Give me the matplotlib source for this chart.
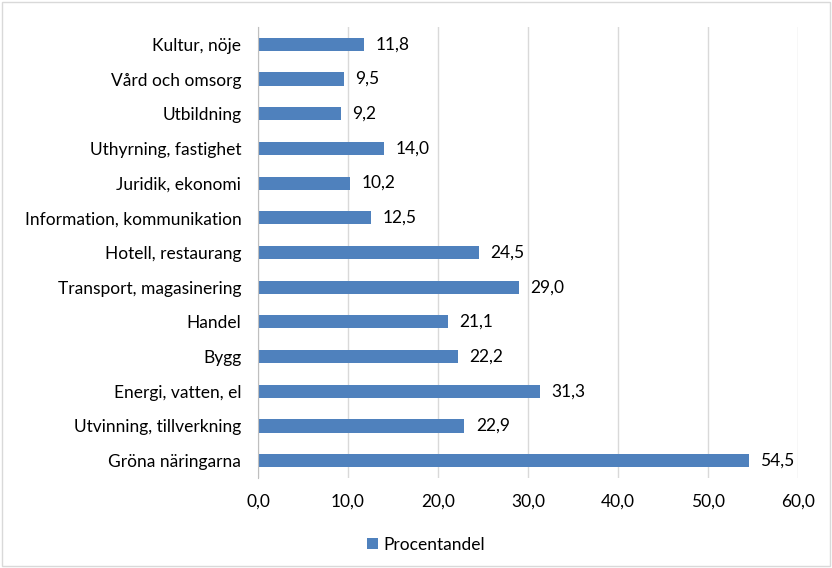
import matplotlib
matplotlib.use("Agg")
import matplotlib.pyplot as plt
from matplotlib.patches import Rectangle

categories = ["Kultur, nöje", "Vård och omsorg", "Utbildning", "Uthyrning, fastighet",
              "Juridik, ekonomi", "Information, kommunikation", "Hotell, restaurang",
              "Transport, magasinering", "Handel", "Bygg", "Energi, vatten, el",
              "Utvinning, tillverkning", "Gröna näringarna"]
values = [11.8, 9.5, 9.2, 14.0, 10.2, 12.5, 24.5, 29.0, 21.1, 22.2, 31.3, 22.9, 54.5]
xticks = [0, 10, 20, 30, 40, 50, 60]
series_name = "Procentandel"

plt.rcParams['font.family'] = ['Lato', 'DejaVu Sans']
fs = 12.5

fig = plt.figure(figsize=(8.32, 5.68), dpi=100)
ax = fig.add_axes([258/832, 1-478/568, 540/832, 451/568])

n = len(categories)
ypos = list(range(n))[::-1]
color = "#4F81BD"
bars = ax.barh(ypos, values, height=0.38, color=color, label=series_name, zorder=3)
for y, v in zip(ypos, values):
    ax.text(v + 1.3, y, f"{v:.1f}".replace(".", ","), va="center", ha="left",
            fontsize=fs, color="#000000")

ax.set_yticks(ypos)
ax.set_yticklabels(categories, fontsize=fs)
ax.set_ylim(-0.5, n - 0.5)
ax.set_xlim(0, 60)
ax.set_xticks(xticks)
ax.set_xticklabels([f"{t:.1f}".replace(".", ",") for t in xticks], fontsize=fs)
ax.tick_params(axis="both", length=0)
ax.tick_params(axis="x", pad=11)
ax.tick_params(axis="y", pad=12)
ax.grid(axis="x", color="#D9D9D9", linewidth=1, zorder=0)
for s in ["top", "right", "bottom"]:
    ax.spines[s].set_visible(False)
ax.spines["left"].set_color("#BFBFBF")
ax.spines["left"].set_zorder(4)

fig.legend(handles=[bars], labels=[series_name], loc="center",
           bbox_to_anchor=(426/832, 1-545/568), frameon=False, fontsize=fs,
           handlelength=0.6, handleheight=0.6, handletextpad=0.3)

fig.patches.append(Rectangle((2/832, 2/568), 828/832, 564/568, transform=fig.transFigure,
                             fill=False, edgecolor="#D9D9D9", linewidth=1))

fig.savefig("out.png", dpi=100, facecolor="white")
